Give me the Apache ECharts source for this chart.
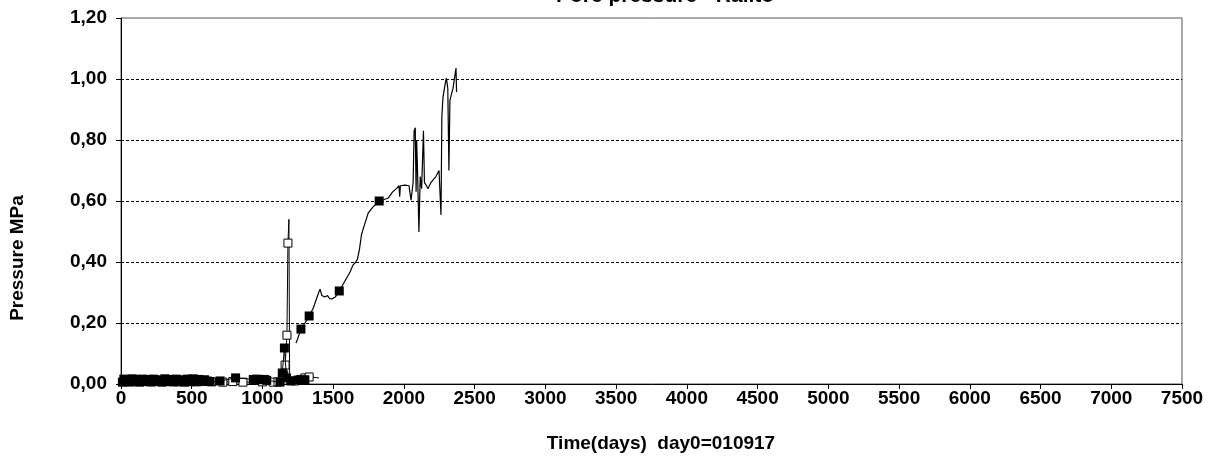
<!DOCTYPE html>
<html>
<head>
<meta charset="utf-8">
<script src="https://cdn.jsdelivr.net/npm/echarts@6/dist/echarts.min.js"></script>
<style>html,body{margin:0;padding:0;background:#fff}#c{width:1213px;height:457px}</style>
</head>
<body>
<div id="c"></div>
<script>
// ---- data ----
const titleText = 'Pore pressure - Raiito';
const xAxisName = 'Time(days)  day0=010917';
const yAxisName = 'Pressure MPa';
const xTicks = [0, 7500, 500];      // min, max, interval
const yTicks = [0, 1.2, 0.2];

// sensor A (filled squares) – low readings then first rise
const daysA = [10,20,35,50,65,80,95,110,130,150,170,190,210,230,250,270,290,310,330,350,370,390,410,430,450,470,490,510,530,550,570,590,610,630,700,810,935,960,990,1015,1030,1124,1140,1155,1170,1200,1253,1280,1300];
const valsA = [0.006,0.016,0.008,0.014,0.007,0.017,0.009,0.015,0.006,0.016,0.008,0.015,0.007,0.016,0.009,0.014,0.006,0.017,0.008,0.015,0.007,0.016,0.009,0.014,0.006,0.016,0.008,0.017,0.007,0.015,0.009,0.014,0.010,0.008,0.010,0.020,0.015,0.016,0.014,0.015,0.012,0.006,0.036,0.118,0.020,0.010,0.013,0.013,0.014];

// sensor B (open squares) – low readings then spike
const daysB = [25,60,100,160,220,280,340,400,460,520,580,640,720,790,862,1000,1075,1110,1150,1160,1173,1180,1187,1192,1230,1270,1300,1330,1400];
const valsB = [0.008,0.007,0.009,0.008,0.007,0.009,0.008,0.007,0.008,0.009,0.008,0.007,0.006,0.008,0.006,0.007,0.006,0.007,0.030,0.062,0.160,0.462,0.540,0.020,0.010,0.015,0.020,0.023,0.020];
const markB = [1,1,1,1,1,1,1,1,1,1,1,1,1,1,1,1,1,1,1,1,1,1,0,0,1,1,1,1,0];

// sensor C (main curve)
const daysC = [1237,1250,1272,1300,1330,1360,1390,1407,1420,1440,1460,1475,1490,1515,1543,1580,1619,1640,1660,1672,1685,1700,1720,1747,1780,1825,1860,1890,1920,1950,1965,1970,1975,2008,2036,2045,2050,2065,2072,2080,2086,2090,2095,2106,2115,2125,2138,2145,2160,2170,2190,2226,2248,2262,2268,2276,2290,2300,2304,2310,2318,2325,2347,2361,2368,2372];
const valsC = [0.134,0.150,0.180,0.200,0.223,0.250,0.290,0.311,0.290,0.285,0.290,0.280,0.279,0.285,0.305,0.335,0.367,0.390,0.400,0.410,0.440,0.490,0.520,0.560,0.580,0.600,0.605,0.610,0.630,0.642,0.650,0.614,0.650,0.652,0.650,0.650,0.603,0.660,0.830,0.840,0.630,0.800,0.720,0.498,0.680,0.640,0.830,0.660,0.650,0.640,0.660,0.680,0.700,0.554,0.876,0.940,0.980,1.003,1.000,0.970,0.700,0.930,0.970,1.013,1.036,0.957];
const markDaysC = [1272,1330,1543,1825];
const markValsC = [0.180,0.223,0.305,0.600];

// ---- build ----
const zip = (a, b) => a.map((d, i) => [d, b[i]]);
const FONT = '"Liberation Sans", Arial, sans-serif';
const chart = echarts.init(document.getElementById('c'), null, {renderer: 'canvas'});

const option = {
  animation: false,
  grid: {left: 121, right: 31, top: 18, bottom: 73, show: true, borderColor: '#555', borderWidth: 1, backgroundColor: 'transparent'},
  xAxis: {
    type: 'value', min: xTicks[0], max: xTicks[1], interval: xTicks[2],
    axisLine: {show: true, onZero: false, lineStyle: {color: '#000', width: 1}},
    axisTick: {show: true, inside: false, length: 5, lineStyle: {color: '#000'}},
    splitLine: {show: false},
    axisLabel: {color: '#000', fontFamily: FONT, fontWeight: 'bold', fontSize: 19, margin: 5,
      formatter: v => String(v)}
  },
  yAxis: {
    type: 'value', min: yTicks[0], max: yTicks[1], interval: yTicks[2],
    axisLine: {show: true, lineStyle: {color: '#000', width: 1}},
    axisTick: {show: true, inside: false, length: 5, lineStyle: {color: '#000'}},
    splitLine: {show: true, showMinLine: false, showMaxLine: false, lineStyle: {color: '#000', width: 1, type: [3, 2]}},
    axisLabel: {color: '#000', fontFamily: FONT, fontWeight: 'bold', fontSize: 19, margin: 14,
      formatter: v => v.toFixed(2).replace('.', ',')}
  },
  graphic: [
    {type: 'text', x: 665, y: -4, style: {text: titleText, fill: '#000', font: 'bold 21px ' + FONT, align: 'center', verticalAlign: 'middle'}},
    {type: 'text', x: 661, y: 444, style: {text: xAxisName, fill: '#000', font: 'bold 19px ' + FONT, align: 'center', verticalAlign: 'middle'}},
    {type: 'text', x: 18, y: 258, rotation: Math.PI / 2, style: {text: yAxisName, fill: '#000', font: 'bold 19px ' + FONT, align: 'center', verticalAlign: 'middle'}}
  ],
  series: [
    {type: 'line', data: zip(daysB, valsB), symbol: 'none', lineStyle: {color: '#000', width: 1}, z: 2},
    {type: 'scatter', data: zip(daysB, valsB).filter((p, i) => markB[i]), symbol: 'rect', symbolSize: 8,
      itemStyle: {color: '#fff', borderColor: '#000', borderWidth: 1, opacity: 1}, z: 3},
    {type: 'line', data: zip(daysA, valsA), symbol: 'rect', symbolSize: 9, showSymbol: true, showAllSymbol: true,
      itemStyle: {color: '#000', opacity: 1}, lineStyle: {color: '#000', width: 1}, z: 4},
    {type: 'line', data: zip(daysC, valsC), symbol: 'none', lineStyle: {color: '#000', width: 1.2}, z: 4},
    {type: 'scatter', data: zip(markDaysC, markValsC), symbol: 'rect', symbolSize: 9, itemStyle: {color: '#000', opacity: 1}, z: 5}
  ]
};
chart.setOption(option);
</script>
</body>
</html>
